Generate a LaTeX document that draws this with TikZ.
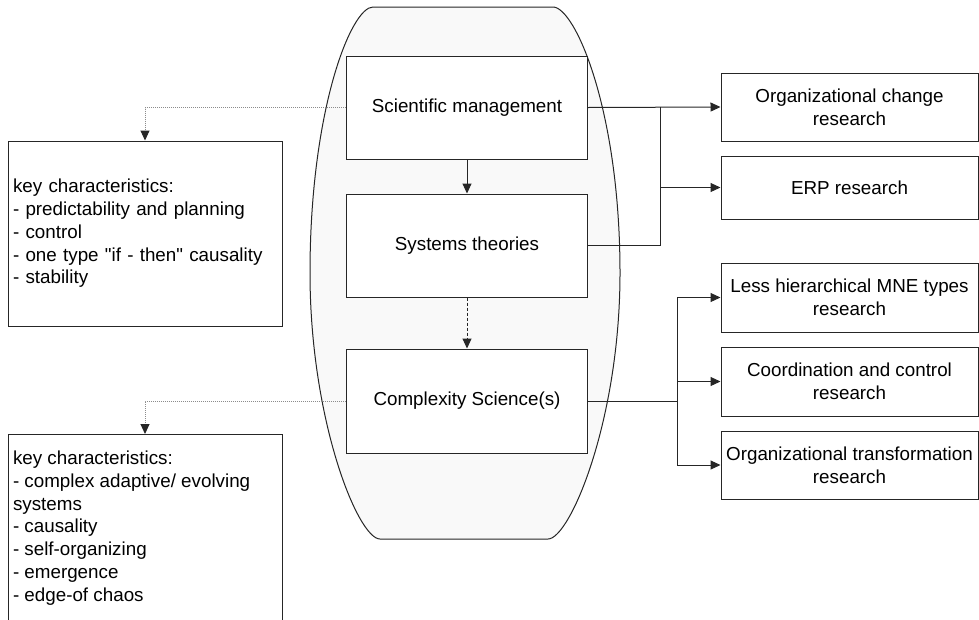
\documentclass[tikz,border=0pt]{standalone}
\usepackage{fontspec}
\setmainfont{Liberation Sans}
\usetikzlibrary{arrows.meta}
\definecolor{ovalfill}{HTML}{F9F9F9}
\definecolor{edge}{HTML}{262626}
% straight double quote, set as a glyph so no quote mapping applies
\newcommand\straightq{\XeTeXglyph\XeTeXcharglyph"22\relax}
\begin{document}
\begin{tikzpicture}[x=1pt,y=-1pt,
  every node/.style={font=\fontsize{18.8}{22.8}\selectfont},
  box/.style={draw=edge,line width=1pt,fill=white,inner sep=0pt,align=center},
  rbox/.style={box,minimum width=257pt},
  cbox/.style={box,minimum width=241pt,minimum height=104pt},
  link/.style={draw=edge,line width=1pt,-{Triangle[length=10pt,width=9pt]}},
  plain/.style={draw=edge,line width=1pt},
  hint/.style={draw=black!45,line width=1pt,dash pattern=on 1pt off 1pt,-{Triangle[length=10pt,width=9pt,color=edge]}}]
\useasboundingbox (0,0) rectangle (979,619);
\clip (0,0) rectangle (979,619);

% rounded barrel enclosing the three schools of thought
\draw[fill=ovalfill,draw=edge,line width=1pt]
  (373,7) -- (553,7)
  .. controls (575,7) and (620,110) .. (620,273)
  .. controls (620,420) and (570,539) .. (548,539)
  -- (380,539)
  .. controls (358,539) and (310,420) .. (310,273)
  .. controls (310,110) and (351,7) .. (373,7) -- cycle;

% central column
\node[cbox,minimum height=103pt] (sm) at (467,107.5) {Scientific management};
\node[cbox,minimum height=103pt] (st) at (467,245.5) {Systems theories};
\node[cbox] (cs) at (467,401) {Complexity Science(s)};

% research streams
\node[rbox,minimum height=68pt] (oc)  at (849.5,107)   {Organizational change\\research};
\node[rbox,minimum height=63pt] (erp) at (849.5,187.5) {ERP research};
\node[rbox,minimum height=69pt] (lh)  at (849.5,297.5) {Less hierarchical MNE types\\research};
\node[rbox,minimum height=69pt] (cc)  at (849.5,381.5) {Coordination and control\\research};
\node[rbox,minimum height=68pt] (ot)  at (849.5,465)   {Organizational transformation\\research};

% characteristic boxes
\node[box,align=left,inner xsep=5pt,text width=264pt,minimum height=185pt] (c1) at (145,233.5)
  {key characteristics:\\- predictability and planning\\- control\\- one type \straightq if - then\straightq\ causality\\- stability};
\node[box,inner xsep=5pt,anchor=north] (c2) at (145,434)
  {\parbox[t][200pt][t]{264pt}{\raggedright\rule{0pt}{30pt}key characteristics:\\- complex adaptive/ evolving\\systems\\- causality\\- self-organizing\\- emergence\\- edge-of chaos}};

% column flow
\draw[link] (sm) -- (st);
\draw[link,dash pattern=on 3pt off 2pt] (st) -- (cs);

% dotted links to the characteristics
\draw[hint] (sm.west) -| (c1.north);
\draw[hint] (cs.west) -| (c2.north);

% upper fan-out
\coordinate (jt) at (660,107);
\draw[link] (sm.east) -- (oc.west);
\draw[plain] (st.east) -| (jt);
\draw[link] (jt |- erp.west) -- (erp.west);

% lower fan-out
\coordinate (jb) at (677,401);
\draw[plain] (cs.east) -- (jb);
\draw[link] (jb) |- (lh.west);
\draw[link] (jb) |- (cc.west);
\draw[link] (jb) |- (ot.west);
\end{tikzpicture}
\end{document}
